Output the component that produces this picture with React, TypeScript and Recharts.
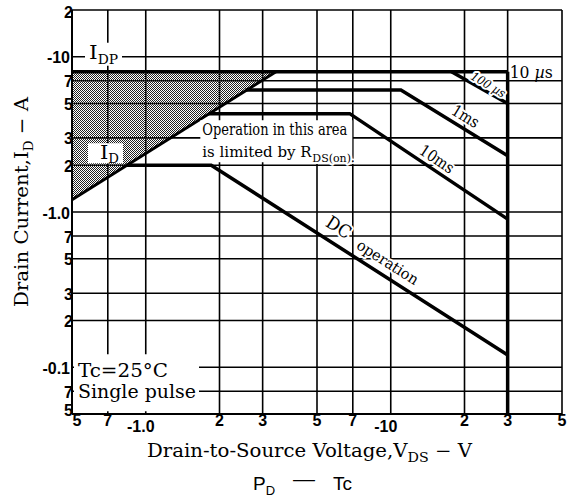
import React from "react";
import { ComposedChart, XAxis, YAxis, CartesianGrid, Line, Area, ReferenceDot } from "recharts";

// ---------- axis ticks ----------
const xTicks = [0.5, 0.7, 1, 2, 3, 5, 7, 10, 20, 30, 50];
const xTickLabels = ["5", "7", "-1.0", "2", "3", "5", "7", "-10", "2", "3", "5"];
const yTicks = [0.05, 0.07, 0.1, 0.2, 0.3, 0.5, 0.7, 1, 2, 3, 5, 7, 10, 20];
const yTickLabels = ["5", "7", "-0.1", "2", "3", "5", "7", "-1.0", "2", "3", "5", "7", "-10", "2"];

// ---------- series (V_DS in V, I_D in A, magnitudes) ----------
const rdsVds = [0.5, 3.4];
const rdsId = [1.2, 8];
const idpVds = [0.5, 30];
const idpId = [8, 8];
const t10usVds = [30, 30];
const t10usId = [8, 0.05];
const t100usVds = [17.7, 30];
const t100usId = [8, 5];
const t1msVds = [2.55, 11, 30];
const t1msId = [6.1, 6.1, 2.3];
const t10msVds = [1.8, 6.8, 30];
const t10msId = [4.3, 4.3, 0.9];
const dcVds = [0.83, 1.85, 30];
const dcId = [2, 2, 0.12];

// ---------- annotation anchors (data coords) ----------
const annIdp = { x: 0.5, y: 10 };
const annId = { x: 0.5, y: 2 };
const annRds = { x: 1.67, y: 3.9 };
const annTc = { x: 0.5, y: 0.1 };
const ann10us = { x: 30, y: 8 };
const ann100us = { x: 23, y: 6.32 };
const ann1ms = { x: 19.4, y: 3.52 };
const ann10ms = { x: 15.2, y: 1.85 };
const annDc = { x: 8.4, y: 0.436 };

const toPts = (xs: number[], ys: number[]) => xs.map((x, i) => ({ x, y: ys[i] }));
const shadeData = rdsVds.map((x, i) => ({ x, y: [rdsId[i], idpId[0]] }));

const SERIF = "'DejaVu Serif', 'Liberation Serif', serif";
const SANS = "'Liberation Sans', Arial, sans-serif";

const findIdx = (arr: number[], v: number) => arr.findIndex((t) => Math.abs(t - v) / t < 1e-6);

const XTick = (props: any) => {
  const { x, y, payload } = props;
  const i = findIdx(xTicks, payload.value);
  const label = i >= 0 ? xTickLabels[i] : "";
  const neg = label.startsWith("-");
  const dx = neg ? -5 : i === 0 ? 5 : 0;
  return (
    <text x={x + dx} y={y + (neg ? 4 : -2)} textAnchor="middle" dominantBaseline="central"
      fontFamily={SANS} fontWeight="bold" fontSize={16} fill="#000">{label}</text>
  );
};

const YTick = (props: any) => {
  const { x, y, payload } = props;
  const i = findIdx(yTicks, payload.value);
  const label = i >= 0 ? yTickLabels[i] : "";
  const neg = label.startsWith("-");
  const dy = i === 0 ? -4 : i === yTicks.length - 1 ? 2 : 1;
  return (
    <text x={x + (neg ? 6 : 9)} y={y + dy} textAnchor="end" dominantBaseline="central"
      fontFamily={SANS} fontWeight="bold" fontSize={16} fill="#000">{label}</text>
  );
};

const halo = { stroke: "#fff", strokeWidth: 4, paintOrder: "stroke" as const, strokeLinejoin: "round" as const };

const idpShape = (p: any) => (
  <g>
    <rect x={p.cx + 13} y={p.cy - 14} width={37} height={23} fill="#fff" />
    <text x={p.cx + 17} y={p.cy + 2} fontFamily={SERIF} fontSize={19} textLength={29} lengthAdjust="spacingAndGlyphs" fill="#000">
      I<tspan dy={5} fontSize={12}>DP</tspan>
    </text>
  </g>
);

const idShape = (p: any) => (
  <g>
    <rect x={p.cx + 16} y={p.cy - 22} width={35} height={20} fill="#fff" />
    <text x={p.cx + 28} y={p.cy - 6} fontFamily={SERIF} fontSize={19} textLength={19} lengthAdjust="spacingAndGlyphs" fill="#000">
      I<tspan dy={4} fontSize={12}>D</tspan>
    </text>
  </g>
);

const rdsShape = (p: any) => (
  <g>
    <rect x={p.cx} y={p.cy} width={152} height={42} fill="#fff" />
    <text x={p.cx + 2} y={p.cy + 15} fontFamily={SERIF} fontSize={16} textLength={145} lengthAdjust="spacingAndGlyphs" fill="#000">
      Operation in this area
    </text>
    <text x={p.cx + 2} y={p.cy + 37} fontFamily={SERIF} fontSize={15} fill="#000">
      is limited by R
    </text>
    <text x={p.cx + 112} y={p.cy + 42} fontFamily={SERIF} fontSize={11} fill="#000" {...halo}>
      DS(on).
    </text>
  </g>
);

const tcShape = (p: any) => (
  <g>
    <rect x={p.cx + 2} y={p.cy - 13} width={125} height={57} fill="#fff" />
    <text x={p.cx + 6} y={p.cy + 10} fontFamily={SERIF} fontSize={19} textLength={90} lengthAdjust="spacingAndGlyphs" fill="#000">
      Tc=25°C
    </text>
    <text x={p.cx + 6} y={p.cy + 31} fontFamily={SERIF} fontSize={19} textLength={118} lengthAdjust="spacingAndGlyphs" fill="#000">
      Single pulse
    </text>
  </g>
);

const us10Shape = (p: any) => (
  <text x={p.cx + 2} y={p.cy + 6} fontFamily={SERIF} fontSize={16} textLength={43} lengthAdjust="spacingAndGlyphs" fill="#000">
    10 <tspan fontStyle="italic">µ</tspan>s
  </text>
);

const rotLabel = (text: React.ReactNode, angle: number, along: number, perp: number, size: number, len: number, italic = false) => (p: any) => (
  <g transform={`translate(${p.cx},${p.cy}) rotate(${angle})`}>
    <text x={along} y={perp} textAnchor="middle" fontFamily={SERIF} fontSize={size} fontStyle={italic ? "italic" : "normal"}
      textLength={len} lengthAdjust="spacingAndGlyphs" fill="#000" {...halo}>{text}</text>
  </g>
);

const dcShape = (p: any) => (
  <g transform={`translate(${p.cx},${p.cy}) rotate(32.6)`}>
    <text x={-63} y={-10} fontFamily={SERIF} fontSize={18} textLength={26} lengthAdjust="spacingAndGlyphs" fill="#000" {...halo}>DC</text>
    <text x={-25} y={-8} fontFamily={SERIF} fontSize={15} textLength={70} lengthAdjust="spacingAndGlyphs" fill="#000" {...halo}>operation</text>
  </g>
);

const lineProps = { stroke: "#000", strokeWidth: 3.5, dot: false, isAnimationActive: false, type: "linear" as const, dataKey: "y", activeDot: false };

export default function App() {
  return (
    <div style={{ position: "absolute", left: 0, top: 0, width: 571, height: 500 }}>
      <ComposedChart width={571} height={500} margin={{ top: 10, right: 9, left: 12, bottom: 56 }}>
        <defs>
          <pattern id="dots" width="2" height="2" patternUnits="userSpaceOnUse">
            <rect x="0" y="0" width="1" height="1" fill="#222" />
            <rect x="1" y="1" width="1" height="1" fill="#222" />
          </pattern>
        </defs>
        <CartesianGrid stroke="#000" strokeWidth={1.6} strokeOpacity={1} />
        <XAxis type="number" dataKey="x" scale="log" domain={[0.5, 50]} ticks={xTicks} interval={0}
          allowDataOverflow height={30} tick={<XTick />} tickLine={false}
          axisLine={{ stroke: "#000", strokeWidth: 2 }} />
        <YAxis type="number" scale="log" domain={[0.05, 20]} ticks={yTicks} interval={0}
          allowDataOverflow width={60} tick={<YTick />} tickLine={false}
          axisLine={{ stroke: "#000", strokeWidth: 2 }} />
        <Area data={shadeData} dataKey="y" type="linear" fill="url(#dots)" fillOpacity={1} stroke="none" isAnimationActive={false} activeDot={false} />
        <Line data={toPts(rdsVds, rdsId)} {...lineProps} strokeWidth={3} />
        <Line data={toPts(idpVds, idpId)} {...lineProps} />
        <Line data={toPts(t10usVds, t10usId)} {...lineProps} />
        <Line data={toPts(t100usVds, t100usId)} {...lineProps} />
        <Line data={toPts(t1msVds, t1msId)} {...lineProps} />
        <Line data={toPts(t10msVds, t10msId)} {...lineProps} />
        <Line data={toPts(dcVds, dcId)} {...lineProps} />
        <ReferenceDot x={annIdp.x} y={annIdp.y} ifOverflow="visible" shape={idpShape} />
        <ReferenceDot x={annId.x} y={annId.y} ifOverflow="visible" shape={idShape} />
        <ReferenceDot x={annRds.x} y={annRds.y} ifOverflow="visible" shape={rdsShape} />
        <ReferenceDot x={annTc.x} y={annTc.y} ifOverflow="visible" shape={tcShape} />
        <ReferenceDot x={ann10us.x} y={ann10us.y} ifOverflow="visible" shape={us10Shape} />
        <ReferenceDot x={ann100us.x} y={ann100us.y} ifOverflow="visible"
          shape={rotLabel(<>100 <tspan>µs</tspan></>, 31, 6, -3, 12, 38, true)} />
        <ReferenceDot x={ann1ms.x} y={ann1ms.y} ifOverflow="visible" shape={rotLabel("1ms", 31.6, -2, -6, 16, 29)} />
        <ReferenceDot x={ann10ms.x} y={ann10ms.y} ifOverflow="visible" shape={rotLabel("10ms", 33.7, -5, -5, 16, 38)} />
        <ReferenceDot x={annDc.x} y={annDc.y} ifOverflow="visible" shape={dcShape} />
      </ComposedChart>
      <svg width={571} height={500} style={{ position: "absolute", left: 0, top: 0, pointerEvents: "none" }}>
        <text x={147} y={457} fontFamily={SERIF} fontSize={18} textLength={325} lengthAdjust="spacingAndGlyphs" fill="#000">
          Drain-to-Source Voltage,V<tspan dy={5} fontSize={13}>DS</tspan><tspan dy={-5}> − V</tspan>
        </text>
        <g transform="translate(28,202) rotate(-90)">
          <text x={0} y={0} textAnchor="middle" fontFamily={SERIF} fontSize={19} textLength={210} lengthAdjust="spacingAndGlyphs" fill="#000">
            Drain Current,I<tspan dy={5} fontSize={13}>D</tspan><tspan dy={-5}> − A</tspan>
          </text>
        </g>
        <text x={253} y={490} fontFamily={SANS} fontWeight="normal" fontSize={19} fill="#000">
          P<tspan dy={5} fontSize={13}>D</tspan>
        </text>
        <text x={293} y={485} fontFamily={SANS} fontWeight="normal" fontSize={17} textLength={22} lengthAdjust="spacingAndGlyphs" fill="#000">—</text>
        <text x={333} y={490} fontFamily={SANS} fontWeight="normal" fontSize={19} fill="#000">Tc</text>
      </svg>
    </div>
  );
}
